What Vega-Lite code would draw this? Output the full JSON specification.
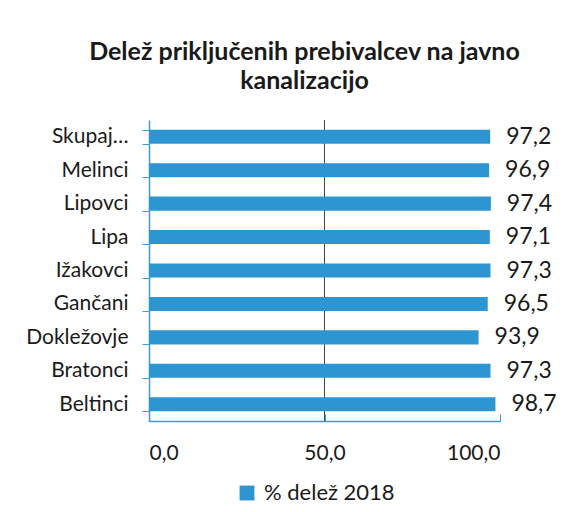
{
  "$schema": "https://vega.github.io/schema/vega-lite/v6.json",
  "width": 351,
  "height": 301,
  "autosize": {"type": "none"},
  "padding": {"left": 149, "top": 120, "right": 86, "bottom": 91},
  "background": "#ffffff",
  "config": {
    "font": "Lato",
    "view": {"stroke": null},
    "locale": {
      "number": {"decimal": ",", "thousands": ".", "grouping": [3], "currency": ["", " €"]}
    }
  },
  "title": {
    "text": ["Delež priključenih prebivalcev na javno", "kanalizacijo"],
    "font": "Lato",
    "fontSize": 25,
    "fontWeight": "bold",
    "color": "#1a1a1a",
    "anchor": "middle",
    "lineHeight": 29,
    "offset": 15,
    "dx": -20
  },
  "data": {
    "values": [
      {"kraj": "Skupaj…", "delez": 97.2, "serija": "% delež 2018"},
      {"kraj": "Melinci", "delez": 96.9, "serija": "% delež 2018"},
      {"kraj": "Lipovci", "delez": 97.4, "serija": "% delež 2018"},
      {"kraj": "Lipa", "delez": 97.1, "serija": "% delež 2018"},
      {"kraj": "Ižakovci", "delez": 97.3, "serija": "% delež 2018"},
      {"kraj": "Gančani", "delez": 96.5, "serija": "% delež 2018"},
      {"kraj": "Dokležovje", "delez": 93.9, "serija": "% delež 2018"},
      {"kraj": "Bratonci", "delez": 97.3, "serija": "% delež 2018"},
      {"kraj": "Beltinci", "delez": 98.7, "serija": "% delež 2018"}
    ]
  },
  "layer": [
    {
      "mark": {"type": "rule", "color": "#444444", "strokeWidth": 1},
      "encoding": {"x": {"datum": 50, "type": "quantitative"}}
    },
    {
      "mark": {"type": "bar", "color": "#2e95d3"},
      "encoding": {
        "y": {
          "field": "kraj",
          "type": "nominal",
          "sort": null,
          "scale": {"paddingInner": 0.58, "paddingOuter": 0.29},
          "axis": {
            "title": null,
            "domainColor": "#3d9bd8",
            "domainWidth": 1.5,
            "tickColor": "#3d9bd8",
            "tickSize": 7,
            "tickBand": "extent",
            "labelFontSize": 21,
            "labelColor": "#1a1a1a",
            "labelPadding": 14,
            "labelFont": "Lato"
          }
        },
        "x": {
          "field": "delez",
          "type": "quantitative",
          "scale": {"domain": [0, 100]},
          "axis": {
            "title": null,
            "values": [0, 50, 100],
            "grid": false,
            "domainColor": "#3d9bd8",
            "domainWidth": 1.5,
            "tickColor": "#3d9bd8",
            "tickSize": -7,
            "labelFontSize": 21,
            "labelColor": "#1a1a1a",
            "labelPadding": 28,
            "labelFont": "Lato",
            "format": ".1f"
          }
        },
        "color": {
          "field": "serija",
          "type": "nominal",
          "scale": {"range": ["#2e95d3"]},
          "legend": {
            "title": null,
            "orient": "none",
            "legendX": 87,
            "legendY": 362,
            "symbolType": "square",
            "symbolSize": 220,
            "symbolStrokeWidth": 0,
            "labelFontSize": 22,
            "labelColor": "#1a1a1a",
            "labelFont": "Lato",
            "labelOffset": 6
          }
        }
      }
    },
    {
      "mark": {"type": "text", "align": "left", "dx": 16, "fontSize": 23, "color": "#1a1a1a", "font": "Lato"},
      "encoding": {
        "y": {"field": "kraj", "type": "nominal", "sort": null},
        "x": {"field": "delez", "type": "quantitative"},
        "text": {"field": "delez", "type": "quantitative", "format": ".1f"}
      }
    }
  ]
}
